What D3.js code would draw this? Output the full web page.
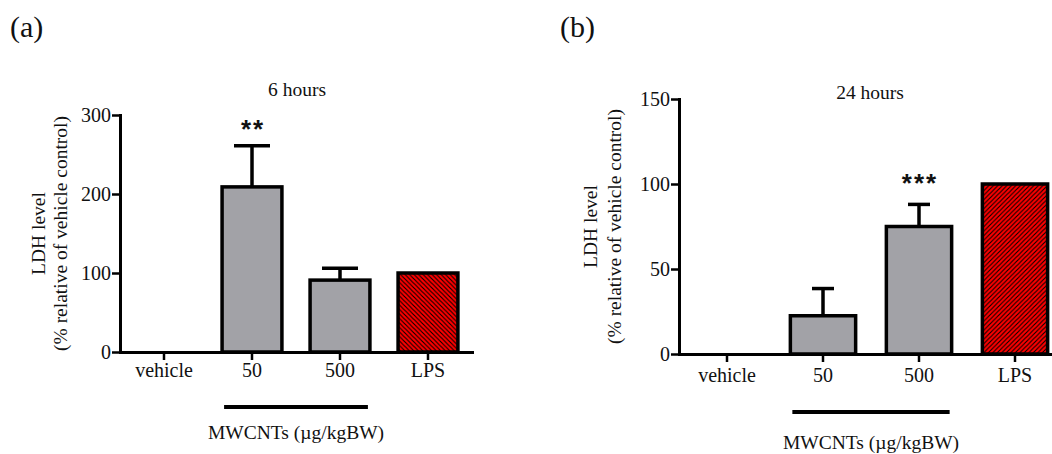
<!DOCTYPE html>
<html>
<head>
<meta charset="utf-8">
<script src="https://cdn.jsdelivr.net/npm/d3@7"></script>
<style>
  html, body { margin: 0; padding: 0; background: #fff; }
  svg { display: block; }
  text { font-family: "Liberation Serif", "Times New Roman", serif; fill: #111; }
</style>
</head>
<body>
<svg id="chart" width="1052" height="454"></svg>
<script>
// ---------------- data ----------------
const categories = ["vehicle", "50", "500", "LPS"];
const means6h  = [0, 209, 91, 100];
const sem6h    = [0, 52, 15, 0];
const sig6h    = ["", "**", "", ""];
const ticks6h  = [0, 100, 200, 300];

const means24h = [0, 22.5, 75, 100];
const sem24h   = [0, 16, 13, 0];
const sig24h   = ["", "", "***", ""];
const ticks24h = [0, 50, 100, 150];

const panelLabels = ["(a)", "(b)"];
const panelTitles = ["6 hours", "24 hours"];
const yLabel1 = "LDH level";
const yLabel2 = "(% relative of vehicle control)";
const groupLabel = "MWCNTs (\u00b5g/kgBW)";
const groupMembers = ["50", "500"];

// ---------------- drawing ----------------
const svg = d3.select("#chart");
const defs = svg.append("defs");
const SERIF = "'Liberation Serif', 'Times New Roman', serif";

function hatch(id, dir) {
  const s = 4.5;
  const p = defs.append("pattern").attr("id", id)
    .attr("patternUnits", "userSpaceOnUse").attr("width", s).attr("height", s);
  p.append("rect").attr("width", s).attr("height", s).attr("fill", "#ff0000");
  const d = dir === "back"
    ? `M0,0 L${s},${s} M-1,${s - 1} L1,${s + 1} M${s - 1},-1 L${s + 1},1`
    : `M0,${s} L${s},0 M-1,1 L1,-1 M${s - 1},${s + 1} L${s + 1},${s - 1}`;
  p.append("path").attr("d", d).attr("stroke", "#000").attr("stroke-width", 1.1);
}
hatch("hatchA", "back");
hatch("hatchB", "fwd");

const panels = [
  { means: means6h, sem: sem6h, sig: sig6h, ticks: ticks6h, max: 300,
    x0: 120, step: 88, y0: 352, yTop: 115, capW: 36, hatch: "hatchA",
    label: panelLabels[0], labelX: 10, title: panelTitles[0], titleX: 297, titleY: 96,
    tickPad: 3, ylab1X: 45, ylab2X: 67, lineY: 407,
    groupY: 439, sigY: 138 },
  { means: means24h, sem: sem24h, sig: sig24h, ticks: ticks24h, max: 150,
    x0: 679, step: 96, y0: 354, yTop: 99, capW: 22, hatch: "hatchB",
    label: panelLabels[1], labelX: 560, title: panelTitles[1], titleX: 870, titleY: 99,
    tickPad: 6, ylab1X: 597, ylab2X: 621, lineY: 412,
    groupY: 449, sigY: 192 }
];

panels.forEach(P => {
  const g = svg.append("g");
  const x = d3.scaleBand().domain(categories)
    .range([P.x0, P.x0 + P.step * categories.length])
    .paddingInner(0.32).paddingOuter(0.16);
  const y = d3.scaleLinear().domain([0, P.max]).range([P.y0, P.yTop]);

  const data = categories.map((c, i) => ({ c, v: P.means[i], e: P.sem[i], s: P.sig[i] }));

  // bars
  g.selectAll("rect.bar").data(data.filter(d => d.v > 0)).join("rect")
    .attr("class", "bar")
    .attr("x", d => x(d.c))
    .attr("y", d => y(d.v))
    .attr("width", x.bandwidth())
    .attr("height", d => y(0) - y(d.v))
    .attr("fill", d => d.c === "LPS" ? `url(#${P.hatch})` : "#a2a2a7")
    .attr("stroke", "#000").attr("stroke-width", 3.5);

  // error bars
  const eb = data.filter(d => d.e > 0);
  g.selectAll("line.err").data(eb).join("line")
    .attr("x1", d => x(d.c) + x.bandwidth() / 2).attr("x2", d => x(d.c) + x.bandwidth() / 2)
    .attr("y1", d => y(d.v)).attr("y2", d => y(d.v + d.e))
    .attr("stroke", "#000").attr("stroke-width", 3.5);
  g.selectAll("line.cap").data(eb).join("line")
    .attr("x1", d => x(d.c) + x.bandwidth() / 2 - P.capW / 2)
    .attr("x2", d => x(d.c) + x.bandwidth() / 2 + P.capW / 2)
    .attr("y1", d => y(d.v + d.e)).attr("y2", d => y(d.v + d.e))
    .attr("stroke", "#000").attr("stroke-width", 3.5);

  // significance
  g.selectAll("text.sig").data(data.filter(d => d.s)).join("text")
    .attr("x", d => x(d.c) + x.bandwidth() / 2 + 1)
    .attr("y", P.sigY)
    .attr("text-anchor", "middle")
    .style("font-family", "'Liberation Sans', Arial, sans-serif")
    .style("font-weight", "bold").style("font-size", "26px")
    .style("letter-spacing", "2px")
    .text(d => d.s);

  // axes
  const yAxis = d3.axisLeft(y).tickValues(P.ticks).tickSize(8).tickSizeOuter(0).tickPadding(1);
  const ya = g.append("g").attr("transform", `translate(${P.x0},0)`).call(yAxis);
  const xAxis = d3.axisBottom(x).tickSize(8).tickSizeOuter(0).tickPadding(P.tickPad);
  const xa = g.append("g").attr("transform", `translate(0,${P.y0})`).call(xAxis);
  [ya, xa].forEach(a => {
    a.attr("font-family", SERIF).attr("font-size", 20);
    a.selectAll("path.domain").attr("stroke", "#000").attr("stroke-width", 3).attr("stroke-linecap", "square");
    a.selectAll(".tick line").attr("stroke", "#000").attr("stroke-width", 2.5);
    a.selectAll(".tick text").style("font-family", SERIF)
      .style("font-size", "20px").attr("fill", "#111");
  });

  // panel label
  svg.append("text").attr("x", P.labelX).attr("y", 37)
    .style("font-family", SERIF).style("font-size", "30px").text(P.label);
  // title
  svg.append("text").attr("x", P.titleX).attr("y", P.titleY)
    .attr("text-anchor", "middle").style("font-family", SERIF).style("font-size", "19.5px").text(P.title);
  // y labels
  const yc = (P.y0 + P.yTop) / 2;
  svg.append("text").attr("transform", `translate(${P.ylab1X},${yc}) rotate(-90)`)
    .attr("text-anchor", "middle").style("font-family", SERIF).style("font-size", "19.5px").text(yLabel1);
  svg.append("text").attr("transform", `translate(${P.ylab2X},${yc}) rotate(-90)`)
    .attr("text-anchor", "middle").style("font-family", SERIF).style("font-size", "19.5px").text(yLabel2);

  // group line and label
  const gx1 = x(groupMembers[0]);
  const gx2 = x(groupMembers[groupMembers.length - 1]) + x.bandwidth();
  svg.append("line").attr("x1", gx1 + 2).attr("x2", gx2 - 2)
    .attr("y1", P.lineY).attr("y2", P.lineY)
    .attr("stroke", "#000").attr("stroke-width", 4);
  svg.append("text").attr("x", (gx1 + gx2) / 2).attr("y", P.groupY)
    .attr("text-anchor", "middle").style("font-family", SERIF).style("font-size", "19.5px").text(groupLabel);
});
</script>
</body>
</html>
